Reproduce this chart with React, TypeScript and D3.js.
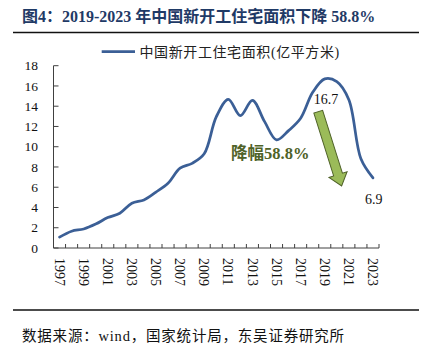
import React from "react";
import * as d3 from "d3";

const years = [
  "1997","1998","1999","2000","2001","2002","2003","2004","2005","2006",
  "2007","2008","2009","2010","2011","2012","2013","2014","2015","2016",
  "2017","2018","2019","2020","2021","2022","2023",
];
const starts = [
  1.07, 1.66, 1.88, 2.36, 3.0, 3.43, 4.42, 4.75, 5.52, 6.4,
  7.88, 8.36, 9.3, 12.94, 14.68, 13.07, 14.58, 12.5, 10.68, 11.59,
  12.81, 15.37, 16.7, 16.43, 14.64, 8.81, 6.93,
];
const yTicks = [0, 2, 4, 6, 8, 10, 12, 14, 16, 18];
const xLabels = years.filter((_, i) => i % 2 === 0);
const seriesName = "中国新开工住宅面积(亿平方米)";
const titleText = "图4：2019-2023 年中国新开工住宅面积下降 58.8%";
const sourceText = "数据来源：wind，国家统计局，东吴证券研究所";
const peakLabel = "16.7";
const lastLabel = "6.9";
const dropLabel = "降幅58.8%";
// arrow from (year, value) to (year, value)
const arrowFrom = [2018.46, 13.46];
const arrowTo = [2020.4, 6.12];

const W = 428;
const H = 347;
const FONT = "'Liberation Serif', 'Times New Roman', 'Noto Sans CJK SC', serif";
const LINE = "#3B5F96";
const AXIS = "#404040";

export default function App() {
  const x = d3.scaleBand<string>().domain(years).range([53.5, 379]).padding(0);
  const y = d3.scaleLinear().domain([0, 18]).range([248, 65.7]);
  const cx = (yr: string) => (x(yr) as number) + x.bandwidth() / 2;
  const cxf = (yr: number) => (x("1997") as number) + (yr - 1997) * x.step() + x.bandwidth() / 2;

  const line = d3
    .line<number>()
    .x((_, i) => cx(years[i]))
    .y((d) => y(d))
    .curve(d3.curveCatmullRom.alpha(0.5));

  // arrow geometry
  const ax0 = cxf(arrowFrom[0]);
  const ay0 = y(arrowFrom[1]);
  const ax1 = cxf(arrowTo[0]);
  const ay1 = y(arrowTo[1]);
  const len = Math.hypot(ax1 - ax0, ay1 - ay0);
  const ang = (Math.atan2(ay1 - ay0, ax1 - ax0) * 180) / Math.PI;
  const sw = 4.6; // half shaft width
  const hw = 9.5; // half head width
  const hl = 12; // head length
  const arrowPts = [
    [0, -sw], [len - hl, -sw], [len - hl, -hw], [len, 0], [len - hl, hw], [len - hl, sw], [0, sw],
  ].map((p) => p.join(",")).join(" ");

  const ticksX = years.map((yr) => x(yr) as number).concat([(x(years[years.length - 1]) as number) + x.step()]);

  return (
    <svg width={W} height={H} style={{ display: "block", position: "absolute", left: 0, top: 0 }} fontFamily={FONT}>
      <rect width={W} height={H} fill="#fff" />
      <text x={22} y={22} fontSize={16} fontWeight="bold" fill="#1F3A66">{titleText}</text>
      <line x1={13} x2={419} y1={32.5} y2={32.5} stroke="#111" strokeWidth={1.6} />

      {/* legend */}
      <line x1={101.7} x2={135} y1={51.7} y2={51.7} stroke={LINE} strokeWidth={2.75} />
      <text x={139.5} y={57} fontSize={14} fill="#222" letterSpacing={0.6}>{seriesName}</text>

      {/* y axis */}
      <line x1={53.5} x2={53.5} y1={y(18)} y2={y(0)} stroke={AXIS} strokeWidth={1} />
      {yTicks.map((t) => (
        <g key={t}>
          <line x1={53.5} x2={58.5} y1={y(t)} y2={y(t)} stroke={AXIS} strokeWidth={1} />
          <text x={38} y={y(t)} dy="0.35em" textAnchor="end" fontSize={13.5} fill="#111">{t}</text>
        </g>
      ))}

      {/* x axis */}
      <line x1={53.5} x2={379} y1={y(0)} y2={y(0)} stroke={AXIS} strokeWidth={1} />
      {ticksX.map((tx, i) => (
        <line key={i} x1={tx} x2={tx} y1={y(0)} y2={y(0) - 4} stroke={AXIS} strokeWidth={1} />
      ))}
      {xLabels.map((yr) => (
        <text
          key={yr}
          transform={`translate(${cx(yr)},${y(0) + 10}) rotate(90)`}
          dy="0.35em"
          fontSize={14}
          fill="#111"
        >
          {yr}
        </text>
      ))}

      {/* series */}
      <path d={line(starts) || ""} fill="none" stroke={LINE} strokeWidth={2.75} strokeLinejoin="round" strokeLinecap="round" />

      {/* annotations */}
      <text x={cx("2019") - 11} y={104} fontSize={14} fill="#111">{peakLabel}</text>
      <text x={cx("2023") - 8} y={204} fontSize={14} fill="#111">{lastLabel}</text>
      <text x={231} y={159.3} fontSize={16.5} fontWeight="bold" fill="#4F6228">{dropLabel}</text>
      <polygon
        points={arrowPts}
        transform={`translate(${ax0},${ay0}) rotate(${ang})`}
        fill="#9BBB59"
        stroke="#4F6228"
        strokeWidth={1}
        strokeLinejoin="miter"
      />

      <line x1={13} x2={419} y1={310} y2={310} stroke="#111" strokeWidth={1.6} />
      <text x={22} y={341} fontSize={14.5} fill="#111" letterSpacing={0.8}>{sourceText}</text>
    </svg>
  );
}
